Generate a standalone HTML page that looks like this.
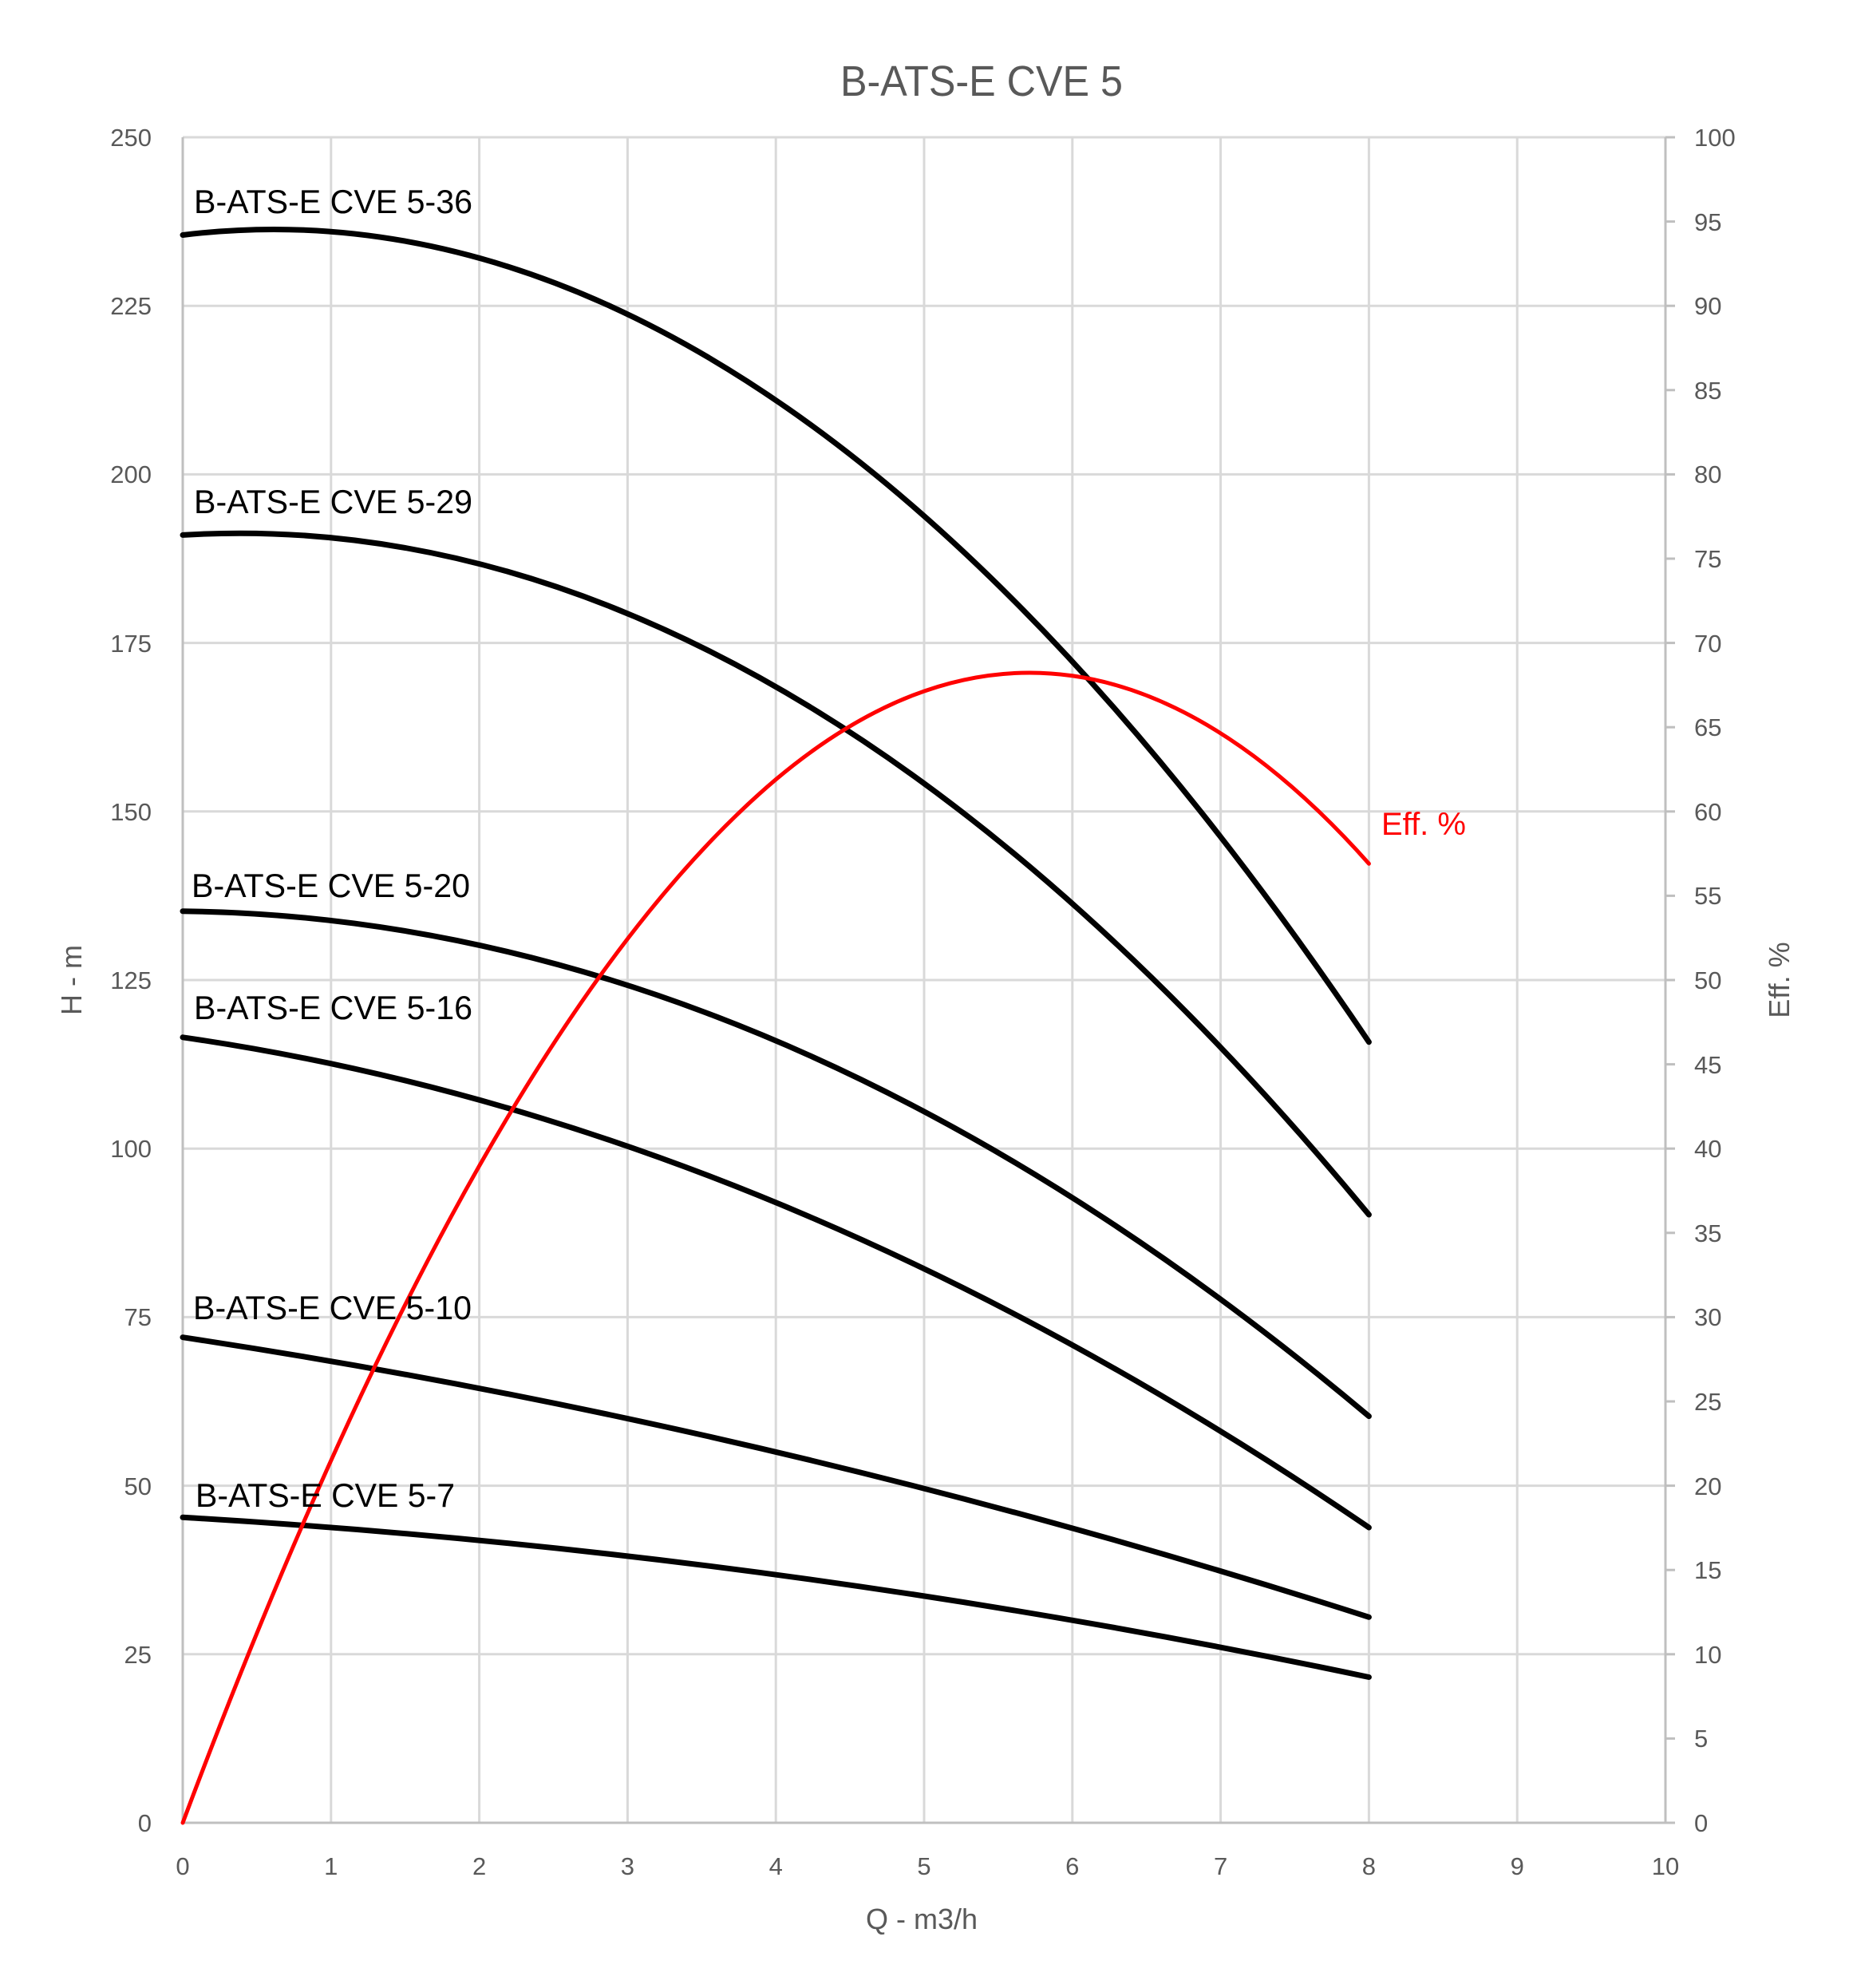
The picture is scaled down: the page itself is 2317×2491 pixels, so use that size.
<!DOCTYPE html>
<html><head><meta charset="utf-8"><style>html,body{margin:0;padding:0;background:#fff}svg{display:block}</style></head>
<body>
<svg xmlns="http://www.w3.org/2000/svg" width="2317" height="2491" viewBox="0 0 2317 2491" font-family="'Liberation Sans', sans-serif">
<rect width="2317" height="2491" fill="#fff"/>
<g stroke="#d9d9d9" stroke-width="3">
<line x1="414.8" x2="414.8" y1="172" y2="2284"/><line x1="600.6" x2="600.6" y1="172" y2="2284"/>
<line x1="786.4" x2="786.4" y1="172" y2="2284"/><line x1="972.2" x2="972.2" y1="172" y2="2284"/>
<line x1="1158" x2="1158" y1="172" y2="2284"/><line x1="1343.8" x2="1343.8" y1="172" y2="2284"/>
<line x1="1529.6" x2="1529.6" y1="172" y2="2284"/><line x1="1715.4" x2="1715.4" y1="172" y2="2284"/>
<line x1="1901.2" x2="1901.2" y1="172" y2="2284"/>
<line x1="229" x2="2087" y1="2072.8" y2="2072.8"/><line x1="229" x2="2087" y1="1861.6" y2="1861.6"/>
<line x1="229" x2="2087" y1="1650.4" y2="1650.4"/><line x1="229" x2="2087" y1="1439.2" y2="1439.2"/>
<line x1="229" x2="2087" y1="1228" y2="1228"/><line x1="229" x2="2087" y1="1016.8" y2="1016.8"/>
<line x1="229" x2="2087" y1="805.6" y2="805.6"/><line x1="229" x2="2087" y1="594.4" y2="594.4"/>
<line x1="229" x2="2087" y1="383.2" y2="383.2"/><line x1="229" x2="2087" y1="172" y2="172"/>
</g>
<g stroke="#bfbfbf" stroke-width="3">
<line x1="229" x2="229" y1="172" y2="2284"/>
<line x1="2087" x2="2087" y1="172" y2="2284"/>
<line x1="229" x2="2099" y1="2284" y2="2284"/>
<line x1="2087" x2="2099" y1="2178.4" y2="2178.4"/><line x1="2087" x2="2099" y1="2072.8" y2="2072.8"/>
<line x1="2087" x2="2099" y1="1967.2" y2="1967.2"/><line x1="2087" x2="2099" y1="1861.6" y2="1861.6"/>
<line x1="2087" x2="2099" y1="1756" y2="1756"/><line x1="2087" x2="2099" y1="1650.4" y2="1650.4"/>
<line x1="2087" x2="2099" y1="1544.8" y2="1544.8"/><line x1="2087" x2="2099" y1="1439.2" y2="1439.2"/>
<line x1="2087" x2="2099" y1="1333.6" y2="1333.6"/><line x1="2087" x2="2099" y1="1228" y2="1228"/>
<line x1="2087" x2="2099" y1="1122.4" y2="1122.4"/><line x1="2087" x2="2099" y1="1016.8" y2="1016.8"/>
<line x1="2087" x2="2099" y1="911.2" y2="911.2"/><line x1="2087" x2="2099" y1="805.6" y2="805.6"/>
<line x1="2087" x2="2099" y1="700" y2="700"/><line x1="2087" x2="2099" y1="594.4" y2="594.4"/>
<line x1="2087" x2="2099" y1="488.8" y2="488.8"/><line x1="2087" x2="2099" y1="383.2" y2="383.2"/>
<line x1="2087" x2="2099" y1="277.6" y2="277.6"/><line x1="2087" x2="2099" y1="172" y2="172"/>
</g>
<g fill="#595959" font-size="31" text-anchor="end">
<text x="190" y="2295">0</text><text x="190" y="2084">25</text><text x="190" y="1873">50</text>
<text x="190" y="1661">75</text><text x="190" y="1450">100</text><text x="190" y="1239">125</text>
<text x="190" y="1028">150</text><text x="190" y="817">175</text><text x="190" y="605">200</text>
<text x="190" y="394">225</text><text x="190" y="183">250</text>
</g>
<g fill="#595959" font-size="31">
<text x="2123" y="2295">0</text><text x="2123" y="2189">5</text><text x="2123" y="2084">10</text>
<text x="2123" y="1978">15</text><text x="2123" y="1873">20</text><text x="2123" y="1767">25</text>
<text x="2123" y="1661">30</text><text x="2123" y="1556">35</text><text x="2123" y="1450">40</text>
<text x="2123" y="1345">45</text><text x="2123" y="1239">50</text><text x="2123" y="1133">55</text>
<text x="2123" y="1028">60</text><text x="2123" y="922">65</text><text x="2123" y="817">70</text>
<text x="2123" y="711">75</text><text x="2123" y="605">80</text><text x="2123" y="500">85</text>
<text x="2123" y="394">90</text><text x="2123" y="289">95</text><text x="2123" y="183">100</text>
</g>
<g fill="#595959" font-size="31" text-anchor="middle">
<text x="229" y="2349">0</text><text x="414.8" y="2349">1</text><text x="600.6" y="2349">2</text>
<text x="786.4" y="2349">3</text><text x="972.2" y="2349">4</text><text x="1158" y="2349">5</text>
<text x="1343.8" y="2349">6</text><text x="1529.6" y="2349">7</text><text x="1715.4" y="2349">8</text>
<text x="1901.2" y="2349">9</text><text x="2087" y="2349">10</text>
</g>
<g fill="none" stroke="#000" stroke-width="7" stroke-linecap="round">
<path d="M229,294.5 Q972.2,202.9 1715.4,1305.7"/>
<path d="M229,670.4 Q972.2,624.8 1715.4,1522"/>
<path d="M229,1141.8 Q972.2,1149.9 1715.4,1774.6"/>
<path d="M229,1299.8 Q972.2,1406.7 1715.4,1914"/>
<path d="M229,1675.7 Q972.2,1787.7 1715.4,2026.3"/>
<path d="M229,1901.3 Q972.2,1944.8 1715.4,2101.5"/>
</g>
<path d="M229,2284 Q600.6,1291.4 972.2,976.7 Q1343.8,664.1 1715.4,1082.2" fill="none" stroke="#ff0000" stroke-width="5" stroke-linecap="round"/>
<text x="1230" y="120" font-size="54" fill="#595959" text-anchor="middle" textLength="354" lengthAdjust="spacingAndGlyphs">B-ATS-E CVE 5</text>
<text x="1155" y="2417" font-size="36" fill="#595959" text-anchor="middle">Q - m3/h</text>
<text transform="translate(102,1228) rotate(-90)" font-size="36" fill="#595959" text-anchor="middle">H - m</text>
<text transform="translate(2242,1228) rotate(-90)" font-size="36" fill="#595959" text-anchor="middle">Eff. %</text>
<g font-size="42" fill="#000">
<text x="243" y="267" textLength="349" lengthAdjust="spacingAndGlyphs">B-ATS-E CVE 5-36</text>
<text x="243" y="643" textLength="349" lengthAdjust="spacingAndGlyphs">B-ATS-E CVE 5-29</text>
<text x="240" y="1124" textLength="349" lengthAdjust="spacingAndGlyphs">B-ATS-E CVE 5-20</text>
<text x="243" y="1277" textLength="349" lengthAdjust="spacingAndGlyphs">B-ATS-E CVE 5-16</text>
<text x="242" y="1653" textLength="349" lengthAdjust="spacingAndGlyphs">B-ATS-E CVE 5-10</text>
<text x="245" y="1888" textLength="325" lengthAdjust="spacingAndGlyphs">B-ATS-E CVE 5-7</text>
</g>
<text x="1731" y="1046" font-size="40" fill="#ff0000">Eff. %</text>
</svg>
</body></html>
